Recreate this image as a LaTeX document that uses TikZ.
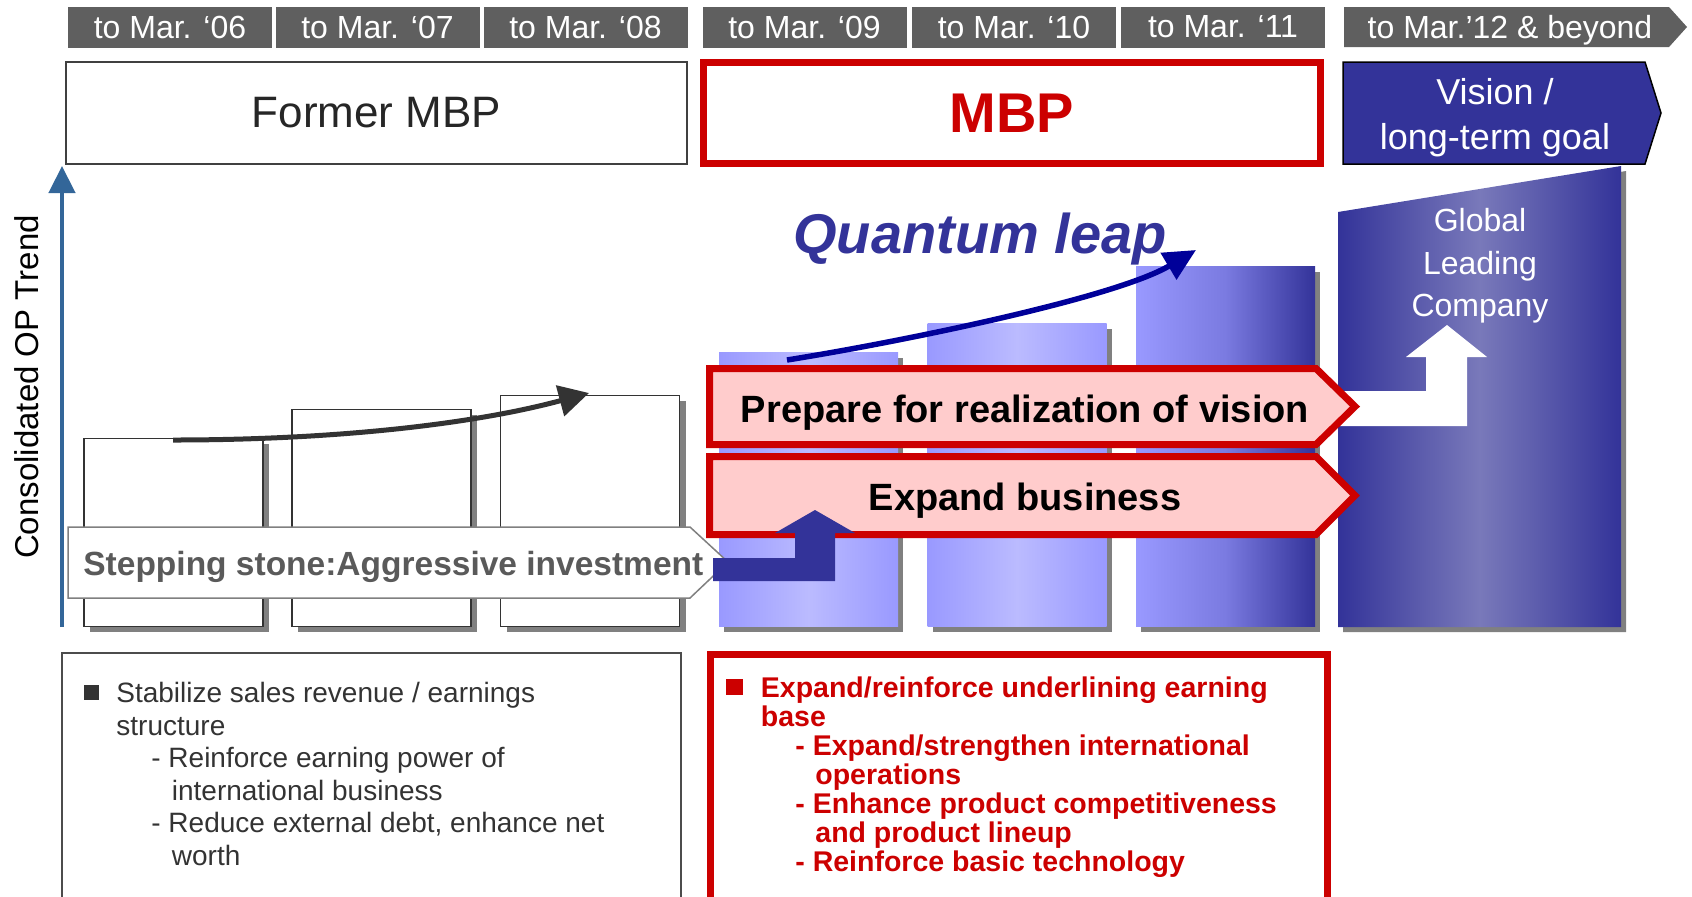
\documentclass[tikz,border=0pt]{standalone}
\usepackage{fontspec}
\setmainfont{Liberation Sans}
\usetikzlibrary{arrows.meta,shadows,positioning}
\definecolor{hdrgray}{HTML}{5F5F5F}
\definecolor{mbpred}{HTML}{CC0000}
\definecolor{visblue}{HTML}{333399}
\definecolor{pinkfill}{HTML}{FFCCCC}
\definecolor{trendblue}{HTML}{336699}
\definecolor{barlight}{HTML}{9999FF}
\definecolor{barmid}{HTML}{BBBBFF}
\definecolor{bigmid}{HTML}{7979BA}
\definecolor{shadowgray}{HTML}{808080}
\definecolor{textgray}{HTML}{333333}
\definecolor{stepgray}{HTML}{5A5A5A}
\definecolor{qlnavy}{HTML}{000099}
\tikzset
{
    yearbox/.style    = {rectangle, fill=hdrgray, text=white, minimum width=102pt, minimum height=20.5pt, inner sep=0pt, font=\fontsize{16}{19}\selectfont},
    planbox/.style    = {rectangle, minimum width=310.5pt, minimum height=51pt, inner sep=0pt},
    redframe/.style   = {draw=mbpred, line width=3.5pt, line join=miter},
    pinkarrow/.style  = {redframe, fill=pinkfill},
    oldbar/.style     = {rectangle, draw=textgray, line width=0.75pt, fill=white, minimum width=89.5pt, anchor=south, drop shadow={shadow xshift=3pt, shadow yshift=-3pt, fill=shadowgray, opacity=1}},
    newbar/.style     = {rectangle, minimum width=89.5pt, anchor=south, left color=barlight, right color=barlight, middle color=barmid, drop shadow={shadow xshift=2.5pt, shadow yshift=-2.5pt, fill=shadowgray, opacity=1}},
    barlabel/.style   = {anchor=base, inner sep=0pt, font=\bfseries\fontsize{19}{23}\selectfont},
    formerline/.style = {anchor=base west, inner sep=0pt, text=textgray, font=\fontsize{14}{17}\selectfont},
    mbpline/.style    = {anchor=base west, inner sep=0pt, text=mbpred, font=\bfseries\fontsize{14.25}{17}\selectfont}
}

\begin{document}
\begin{tikzpicture}[x=0.5pt, y=-0.5pt]
\useasboundingbox (0,0) rectangle (1692,896);

%% period headers
\node (yr06)	[yearbox]	at (170,27)		{to Mar. ‘06};
\node (yr07)	[yearbox]	at (377.5,27)	{to Mar. ‘07};
\node (yr08)	[yearbox]	at (585.5,27)	{to Mar. ‘08};
\node (yr09)	[yearbox]	at (804.5,27)	{to Mar. ‘09};
\node (yr10)	[yearbox]	at (1014,27)	{to Mar. ‘10};
\node (yr11)	[yearbox]	at (1223,27)	{to Mar. ‘11};
\fill[hdrgray] (1344,7) -- (1669,7) -- (1687,27) -- (1669,47) -- (1344,47) -- cycle;
\node (yr12)	[anchor=base, inner sep=0pt, text=white, font=\fontsize{16}{19}\selectfont]	at (1510,38.5)	{to Mar.’12 \& beyond};

%% plan boxes
\node (former)	[planbox, draw=black!75, line width=1pt, text=black!85, font=\fontsize{22}{26}\selectfont]	at (376.5,113)	{Former MBP};
\node (mbp)		[planbox, redframe, minimum width=308.5pt, minimum height=50.5pt, text=mbpred, font=\bfseries\fontsize{28}{32}\selectfont]	at (1012,113)	{MBP};
\draw[fill=visblue, draw=black, line width=0.75pt] (1343,62) -- (1645,62) -- (1661,113) -- (1645,164) -- (1343,164) -- cycle;
\node (vision)	[align=center, text=white, font=\fontsize{18}{22.5}\selectfont]	at (1495,118)	{Vision /\\long-term goal};

%% trend axis
\coordinate (axisbot) at (62,627);
\coordinate (axistop) at (62,166);
\draw[trendblue, line width=2.25pt, -{Triangle[length=13.5pt, width=13pt]}] (axisbot) -- (axistop);
\node (optrend)	[rotate=90, anchor=base, font=\fontsize{16.5}{20}\selectfont]	at (39,387)	{Consolidated OP Trend};

%% former bars
\node (bar06)	[oldbar, minimum height=94pt]		at (173.5,627)	{};
\node (bar07)	[oldbar, minimum height=108.5pt]	at (381.5,627)	{};
\node (bar08)	[oldbar, minimum height=115.5pt]	at (590,627)	{};
\coordinate (oldstart) at (173,440);
\coordinate (oldend) at (589,393);
\draw[textgray, line width=2.5pt, -{Triangle[length=15pt, width=15.5pt]}] (oldstart) .. controls (330,440) and (470,425) .. (oldend);

%% MBP bars and goal
\node (bar09)	[newbar, minimum height=137pt]		at (808.5,627)	{};
\node (bar10)	[newbar, minimum height=151.5pt]	at (1017,627)	{};
\node (bar11)	[newbar, minimum height=180pt, right color=visblue, middle color=barlight!70!visblue]	at (1225.5,627)	{};
\path[left color=visblue, right color=visblue, middle color=bigmid, drop shadow={shadow xshift=2.5pt, shadow yshift=-2.5pt, fill=shadowgray, opacity=1}]
	(1338,212) -- (1621,166) -- (1621,627) -- (1338,627) -- cycle;
\fill[white] (1340,391) -- (1426,391) -- (1426,357) -- (1406,357) -- (1447,325) -- (1487,357) -- (1467,357) -- (1467,426) -- (1340,426) -- cycle;
\node (glc)		[align=center, text=white, font=\fontsize{16}{21.25}\selectfont]	at (1480,266)	{Global\\Leading\\Company};

%% strategy arrows
\draw[pinkarrow] (709.5,368.5) -- (1316,368.5) -- (1355,406.5) -- (1316,444.5) -- (709.5,444.5) -- cycle;
\node (prepare)	[barlabel]	at (1025,422)	{Prepare for realization of vision};
\draw[pinkarrow] (709.5,456.5) -- (1316,456.5) -- (1355,495.5) -- (1316,534.5) -- (709.5,534.5) -- cycle;
\node (expand)	[barlabel]	at (1025,510)	{Expand business};

%% stepping stone
\draw[fill=white, draw=shadowgray, line width=0.75pt] (68,527) -- (690,527) -- (728,562) -- (690,598) -- (68,598) -- cycle;
\node (stepping)	[anchor=base west, inner sep=0pt, text=stepgray, font=\bfseries\fontsize{16.75}{20}\selectfont]	at (83,575)	{Stepping stone:Aggressive investment};
\fill[visblue] (713,558) -- (795,558) -- (795,533) -- (775,533) -- (815,510) -- (855,533) -- (835,533) -- (835,581) -- (713,581) -- cycle;

%% quantum leap
\coordinate (qlstart) at (787,360);
\coordinate (qlend) at (1196,250);
\draw[qlnavy, line width=2.75pt, -{Triangle[length=16pt, width=15pt]}] (qlstart) .. controls (900,342) and (1115,298) .. (qlend);
\node (qleap)	[anchor=base, text=visblue, font=\bfseries\itshape\fontsize{28}{32}\selectfont]	at (980,253)	{Quantum leap};

%% lower notes
\draw[black!70, line width=0.75pt] (62,653) rectangle (681,902);
\fill[textgray] (84,685) rectangle (99,700);
\node (old1)	[formerline]	at (116,702.5)	{Stabilize sales revenue / earnings};
\node (old2)	[formerline]	at (116,735)	{structure};
\node (old3)	[formerline]	at (151,767.5)	{- Reinforce earning power of};
\node (old4)	[formerline]	at (171.5,800)	{international business};
\node (old5)	[formerline]	at (151,832.5)	{- Reduce external debt, enhance net};
\node (old6)	[formerline]	at (171.5,865)	{worth};

\draw[redframe] (710.5,654.5) rectangle (1327.5,910);
\fill[mbpred] (726,679) rectangle (743,695);
\node (new1)	[mbpline]	at (760.5,697)	{Expand/reinforce underlining earning};
\node (new2)	[mbpline]	at (760.5,726)	{base};
\node (new3)	[mbpline]	at (795,755)	{- Expand/strengthen international};
\node (new4)	[mbpline]	at (815,784)	{operations};
\node (new5)	[mbpline]	at (795,813)	{- Enhance product competitiveness};
\node (new6)	[mbpline]	at (815,842)	{and product lineup};
\node (new7)	[mbpline]	at (795,871)	{- Reinforce basic technology};
\end{tikzpicture}
\end{document}
